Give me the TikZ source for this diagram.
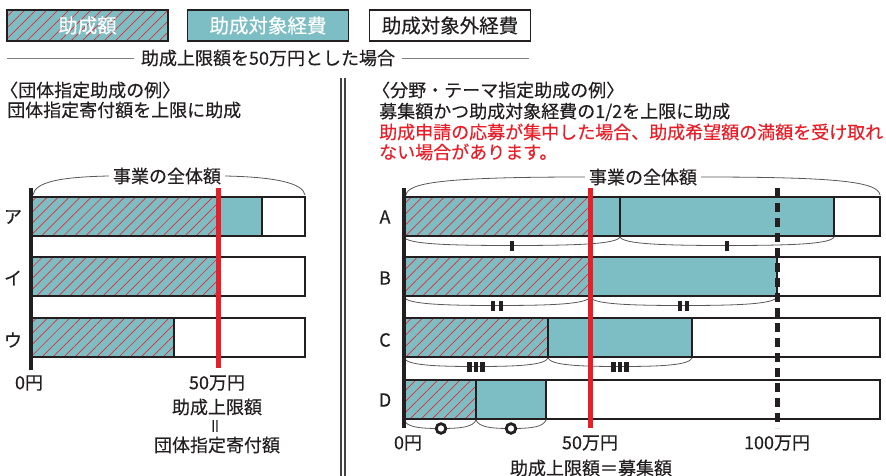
\documentclass[tikz,border=0pt]{standalone}
\usepackage{fontspec}
\newfontfamily\jp[FakeBold=0.3]{Noto Sans CJK JP}
\usetikzlibrary{patterns.meta}
\definecolor{ink}{RGB}{35,31,32}
\definecolor{tealc}{RGB}{124,190,196}
\definecolor{hred}{RGB}{236,40,50}
\definecolor{lred}{RGB}{232,30,40}
\tikzset{
  lbl/.style={inner sep=0pt,text=ink,font=\jp\fontsize{18}{20}\selectfont},
  legend/.style={draw=ink,line width=1.8pt,minimum width=161pt,minimum height=31pt,inner sep=0pt,font=\jp\fontsize{19.5}{21}\selectfont},
  hatch/.style={preaction={fill=tealc},pattern={Lines[angle=45,distance=7.8pt,line width=0.7pt]},pattern color=hred},
  bar/.style={draw=ink,line width=1.8pt},
  brace/.style={draw=ink!75,line width=0.8pt}
}
\begin{document}
\begin{tikzpicture}[x=1pt,y=-1pt]
        \useasboundingbox (0,0) rectangle (886,476);
        %图例
        \node[legend,hatch,text=white] (lg1) at (87.5,25.5) {助成額};
        \node[legend,fill=tealc,text=white] (lg2) at (268,25.5) {助成対象経費};
        \node[legend,fill=white,text=ink] (lg3) at (450,25.5) {助成対象外経費};
        %标题
        \node[lbl,inner xsep=7pt] (ttl) at (268,58) {助成上限額を50万円とした場合};
        \draw [gray][line width=0.9pt] (7,58) -- (ttl.west) (ttl.east) -- (529,58);
        %分隔线
        \draw [ink!85][line width=1.2pt] (341,78) -- (341,476) (345,78) -- (345,476);
        %说明
        \node[lbl,anchor=west] (h1) at (0,90) {〈団体指定助成の例〉};
        \node[lbl,anchor=west] (h2) at (7,110) {団体指定寄付額を上限に助成};
        \node[lbl,anchor=west] (h3) at (372,90) {〈分野・テーマ指定助成の例〉};
        \node[lbl,anchor=west] (h4) at (379,112) {募集額かつ助成対象経費の1/2を上限に助成};
        \node[lbl,anchor=west,text=lred] (h5) at (379,132) {助成申請の応募が集中した場合、助成希望額の満額を受け取れ};
        \node[lbl,anchor=west,text=lred] (h6) at (379,152) {ない場合があります。};
        %左：条形
        \fill [hatch] (31,197) rectangle (218,236);
        \fill [tealc] (218,197) rectangle (262,236);
        \fill [hatch] (31,257) rectangle (218,296);
        \fill [hatch] (31,318) rectangle (174,357);
        \foreach \y in {197,257,318} \draw [bar] (31,\y) rectangle (305,\y+39);
        \draw [bar] (262,197) -- (262,236) (174,318) -- (174,357);
        %右：条形
        \fill [hatch] (404,197) rectangle (590,236);
        \fill [tealc] (590,197) rectangle (834,236);
        \fill [hatch] (404,257) rectangle (590,296);
        \fill [tealc] (590,257) rectangle (777,296);
        \fill [hatch] (404,318) rectangle (548,357);
        \fill [tealc] (548,318) rectangle (692,357);
        \fill [hatch] (404,380) rectangle (476,419);
        \fill [tealc] (476,380) rectangle (546,419);
        \foreach \y in {197,257,318,380} \draw [bar] (404,\y) rectangle (880,\y+39);
        \draw [bar] (620,197) -- (620,236) (834,197) -- (834,236) (777,257) -- (777,296)
              (548,318) -- (548,357) (692,318) -- (692,357) (476,380) -- (476,419) (546,380) -- (546,419);
        %事业的全体额
        \node[lbl,inner xsep=4pt] (tot1) at (167,176) {事業の全体額};
        \draw [brace] (33,195) .. controls (35,182) and (60,177) .. (tot1.west);
        \draw [brace] (tot1.east) .. controls (275,177) and (303,183) .. (305,195);
        \node[lbl,inner xsep=4pt] (tot2) at (643,177) {事業の全体額};
        \draw [brace] (406,195) .. controls (408,183) and (440,177) .. (tot2.west);
        \draw [brace] (tot2.east) .. controls (840,177) and (878,182) .. (880,195);
        %下方括号
        \foreach \xa/\xb/\y in {404/620/237,620/834/237,404/590/297,590/777/297,404/548/358,548/692/358,404/476/420,476/546/420}
            \draw [brace] (\xa,\y) .. controls (\xa+3,\y+7) and ({\xa+0.2*(\xb-\xa)},\y+8.5) .. ({(\xa+\xb)/2},\y+8.5)
                  .. controls ({\xb-0.2*(\xb-\xa)},\y+8.5) and (\xb-3,\y+7) .. (\xb,\y);
        %记号
        \foreach \xm/\y in {512/237,727/237} \fill [ink] (\xm-2,\y+3.5) rectangle (\xm+2,\y+13.5);
        \foreach \xm/\y in {497/297,683.5/297} \foreach \d in {-3.8,3.8}
            \fill [ink] (\xm+\d-1.9,\y+3.5) rectangle (\xm+\d+1.9,\y+13.5);
        \foreach \xm/\y in {476/358,620/358} \foreach \d in {-6.5,0,6.5}
            \fill [ink] (\xm+\d-2.1,\y+3.5) rectangle (\xm+\d+2.1,\y+13.5);
        \foreach \xm/\y in {441/420,511/420} \draw [ink][line width=2.8pt,fill=white] (\xm,\y+8.5) circle (4.8);
        %上限线
        \draw [lred][line width=5pt] (218,188) -- (218,368);
        \draw [lred][line width=5pt] (590,188) -- (590,428);
        \draw [ink][line width=5pt,dash pattern=on 9pt off 6pt] (777,188) -- (777,428);
        %坐标轴
        \draw [ink][line width=4.5pt] (31,188) -- (31,370);
        \draw [ink][line width=4.5pt] (404,188) -- (404,428);
        %行标签
        \foreach \t/\y in {ア/217,イ/278,ウ/340} \node[lbl] (l\y) at (13,\y) {\t};
        \foreach \t/\y in {A/217,B/278,C/340,D/400} \node[lbl] (r\t) at (385,\y) {\t};
        %坐标
        \node[lbl] (z1) at (29,383) {0円};
        \node[lbl] (f1) at (217,383) {50万円};
        \node[lbl] (cap1) at (217,407) {助成上限額};
        \node[lbl,rotate=90,font=\jp\fontsize{16}{17}\selectfont] (eq1) at (217,426) {＝};
        \node[lbl] (cap2) at (217,445) {団体指定寄付額};
        \node[lbl] (z2) at (408,443) {0円};
        \node[lbl] (f2) at (590,443) {50万円};
        \node[lbl] (h100) at (777,443) {100万円};
        \node[lbl] (cap3) at (591,468) {助成上限額＝募集額};
\end{tikzpicture}
\end{document}
